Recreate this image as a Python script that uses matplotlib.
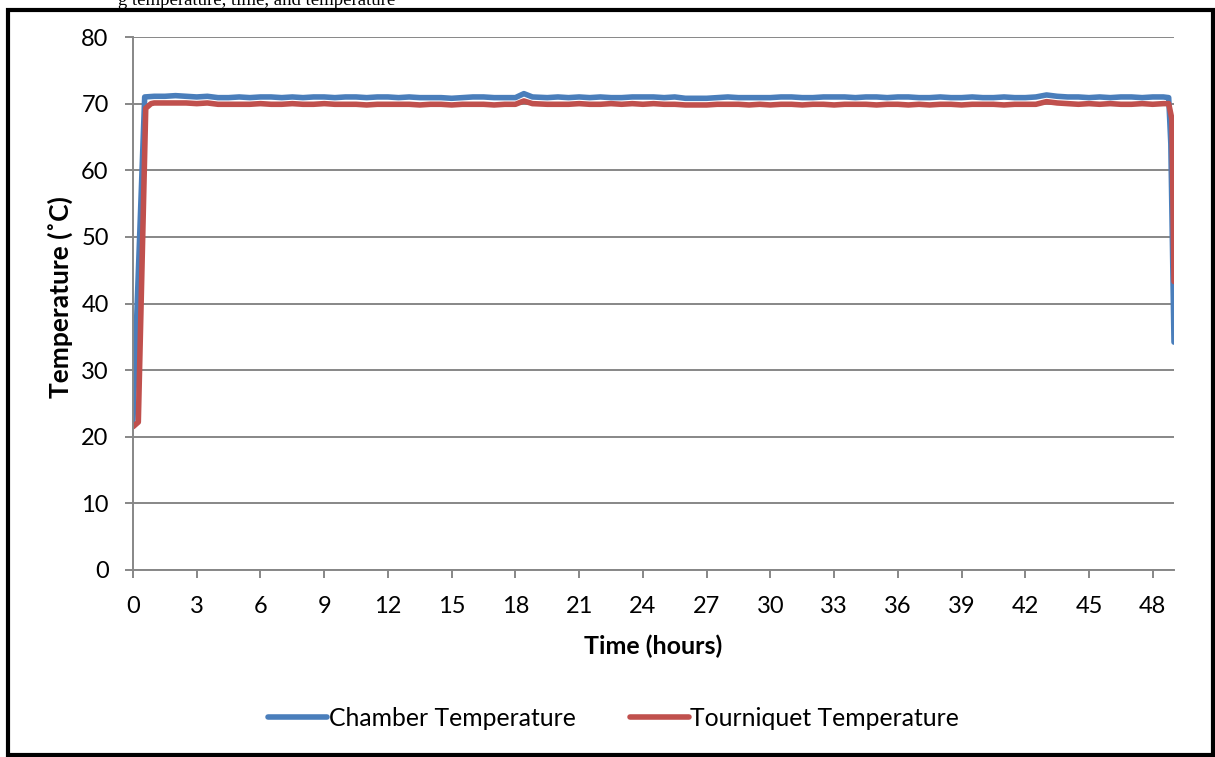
import matplotlib.pyplot as plt
from matplotlib.patches import Rectangle

plt.rcParams['font.family'] = ['Lato', 'DejaVu Sans']

# Chamber temperature (hours, deg C)
chamber_time = [0.0, 0.55,
                1.0, 1.5, 2.0, 2.5, 3.0, 3.5, 4.0, 4.5, 5.0, 5.5, 6.0, 6.5, 7.0, 7.5, 8.0, 8.5,
                9.0, 9.5, 10.0, 10.5, 11.0, 11.5, 12.0, 12.5, 13.0, 13.5, 14.0, 14.5, 15.0, 15.5,
                16.0, 16.5, 17.0, 17.5, 18.0, 18.4, 18.8, 19.5, 20.0, 20.5, 21.0, 21.5, 22.0, 22.5,
                23.0, 23.5, 24.0, 24.5, 25.0, 25.5, 26.0, 26.5, 27.0, 27.5, 28.0, 28.5, 29.0, 29.5,
                30.0, 30.5, 31.0, 31.5, 32.0, 32.5, 33.0, 33.5, 34.0, 34.5, 35.0, 35.5, 36.0, 36.5,
                37.0, 37.5, 38.0, 38.5, 39.0, 39.5, 40.0, 40.5, 41.0, 41.5, 42.0, 42.5, 43.0, 43.5,
                44.0, 44.5, 45.0, 45.5, 46.0, 46.5, 47.0, 47.5, 48.0, 48.5, 48.75, 48.85, 49.0]
chamber_temp = [22.5, 71.0,
                71.1, 71.1, 71.2, 71.1, 71.0, 71.1, 70.9, 70.9, 71.0, 70.9, 71.0, 71.0, 70.9, 71.0, 70.9, 71.0,
                71.0, 70.9, 71.0, 71.0, 70.9, 71.0, 71.0, 70.9, 71.0, 70.9, 70.9, 70.9, 70.8, 70.9,
                71.0, 71.0, 70.9, 70.9, 70.9, 71.5, 71.0, 70.9, 71.0, 70.9, 71.0, 70.9, 71.0, 70.9,
                70.9, 71.0, 71.0, 71.0, 70.9, 71.0, 70.8, 70.8, 70.8, 70.9, 71.0, 70.9, 70.9, 70.9,
                70.9, 71.0, 71.0, 70.9, 70.9, 71.0, 71.0, 71.0, 70.9, 71.0, 71.0, 70.9, 71.0, 71.0,
                70.9, 70.9, 71.0, 70.9, 70.9, 71.0, 70.9, 70.9, 71.0, 70.9, 70.9, 71.0, 71.3, 71.1,
                71.0, 71.0, 70.9, 71.0, 70.9, 71.0, 71.0, 70.9, 71.0, 71.0, 70.9, 64.0, 34.2]

# Tourniquet temperature (hours, deg C)
tourniquet_time = [0.0, 0.25, 0.6, 0.85,
                   1.0, 1.5, 2.0, 2.5, 3.0, 3.5, 4.0, 4.5, 5.0, 5.5, 6.0, 6.5, 7.0, 7.5, 8.0, 8.5,
                   9.0, 9.5, 10.0, 10.5, 11.0, 11.5, 12.0, 12.5, 13.0, 13.5, 14.0, 14.5, 15.0, 15.5,
                   16.0, 16.5, 17.0, 17.5, 18.0, 18.4, 18.8, 19.5, 20.0, 20.5, 21.0, 21.5, 22.0, 22.5,
                   23.0, 23.5, 24.0, 24.5, 25.0, 25.5, 26.0, 26.5, 27.0, 27.5, 28.0, 28.5, 29.0, 29.5,
                   30.0, 30.5, 31.0, 31.5, 32.0, 32.5, 33.0, 33.5, 34.0, 34.5, 35.0, 35.5, 36.0, 36.5,
                   37.0, 37.5, 38.0, 38.5, 39.0, 39.5, 40.0, 40.5, 41.0, 41.5, 42.0, 42.5, 43.0, 43.5,
                   44.0, 44.5, 45.0, 45.5, 46.0, 46.5, 47.0, 47.5, 48.0, 48.5, 48.75, 48.9, 49.0]
tourniquet_temp = [21.5, 22.2, 69.3, 70.0,
                   70.1, 70.1, 70.1, 70.1, 70.0, 70.1, 69.9, 69.9, 69.9, 69.9, 70.0, 69.9, 69.9, 70.0, 69.9, 69.9,
                   70.0, 69.9, 69.9, 69.9, 69.8, 69.9, 69.9, 69.9, 69.9, 69.8, 69.9, 69.9, 69.8, 69.9,
                   69.9, 69.9, 69.8, 69.9, 69.9, 70.4, 70.0, 69.9, 69.9, 69.9, 70.0, 69.9, 69.9, 70.0,
                   69.9, 70.0, 69.9, 70.0, 69.9, 69.9, 69.8, 69.8, 69.8, 69.9, 69.9, 69.9, 69.8, 69.9,
                   69.8, 69.9, 69.9, 69.8, 69.9, 69.9, 69.8, 69.9, 69.9, 69.9, 69.8, 69.9, 69.9, 69.8,
                   69.9, 69.8, 69.9, 69.9, 69.8, 69.9, 69.9, 69.9, 69.8, 69.9, 69.9, 69.9, 70.3, 70.1,
                   70.0, 69.9, 70.0, 69.9, 70.0, 69.9, 69.9, 70.0, 69.9, 70.0, 70.0, 67.7, 43.3]

y_ticks = list(range(0, 81, 10))
x_ticks = list(range(0, 49, 3))

colors = {'chamber': '#4A7EBB', 'tourniquet': '#C0504D'}
grid_gray = '#878787'

fig = plt.figure(figsize=(12.15, 7.57), dpi=100)
ax = fig.add_axes([133/1215, 1-570/757, (1174-133)/1215, (570-37)/757])

ax.plot(chamber_time, chamber_temp, c=colors['chamber'], lw=4.0, label='Chamber Temperature',
        solid_joinstyle='round', solid_capstyle='round')
ax.plot(tourniquet_time, tourniquet_temp, c=colors['tourniquet'], lw=4.0, label='Tourniquet Temperature',
        solid_joinstyle='round', solid_capstyle='round')

# Axes and grid
ax.set_xlim(0, 49)
ax.set_ylim(0, 80)
ax.set_xticks(x_ticks)
ax.set_yticks(y_ticks)
ax.grid(axis='y', color=grid_gray, lw=1.4)
ax.set_axisbelow(True)
for side in ['top', 'right']:
    ax.spines[side].set_visible(False)
for side in ['left', 'bottom']:
    ax.spines[side].set_color(grid_gray)
    ax.spines[side].set_linewidth(1.4)
ax.tick_params(axis='both', direction='out', length=5.5, width=1.4, color=grid_gray,
               labelsize=17, labelcolor='black')
ax.tick_params(axis='y', pad=12)
ax.tick_params(axis='x', pad=13)

# Labels
ax.set_xlabel('Time (hours)', fontsize=18, fontweight='bold', labelpad=13)
fig.text(60/1215, 1-297/757, 'Temperature (˚C)', rotation=90, fontsize=19, fontweight='bold',
         ha='center', va='center')

# Legend
fig.legend(loc='center', bbox_to_anchor=(0.505, 1-718/757), ncol=2, frameon=False, fontsize=17.8,
           handlelength=2.4, handletextpad=0.05, columnspacing=2.2)

# Frame and cut-off caption
fig.add_artist(Rectangle((8/1215, 2/757), 1205/1215, 745/757, transform=fig.transFigure,
                         fill=False, ec='black', lw=3))
fig.text(118/1215, 1-5/757, 'g temperature, time, and temperature', family='Liberation Serif',
         fontsize=13.5, ha='left', va='baseline')

fig.savefig('out.png', dpi=100)
